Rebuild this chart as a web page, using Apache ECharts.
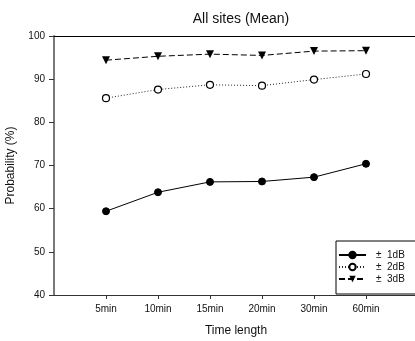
<!DOCTYPE html>
<html>
<head>
<meta charset="utf-8">
<script src="https://cdn.jsdelivr.net/npm/echarts@6/dist/echarts.min.js"></script>
<style>html,body{margin:0;padding:0;background:#fff;}#c{width:415px;height:341px;}</style>
</head>
<body>
<div id="c"></div>
<script>
const categories = ['5min', '10min', '15min', '20min', '30min', '60min'];
const seriesNames = ['±  1dB', '±  2dB', '±  3dB'];
const db1 = [59.4, 63.8, 66.2, 66.3, 67.3, 70.4];
const db2 = [85.6, 87.6, 88.7, 88.5, 89.9, 91.2];
const db3 = [94.4, 95.3, 95.8, 95.5, 96.5, 96.6];
const yTicks = [40, 50, 60, 70, 80, 90, 100];

const toPts = arr => arr.map((v, i) => [i + 1, v]);
const catPos = categories.map((c, i) => i + 1);
const chart = echarts.init(document.getElementById('c'), null, {renderer: 'canvas'});
const font = 'Liberation Sans, Arial, sans-serif';
chart.setOption({
  animation: false,
  title: {
    text: 'All sites (Mean)', left: 236, top: 7, textAlign: 'center',
    textStyle: {fontFamily: font, fontSize: 14, fontWeight: 'normal', color: '#111'}
  },
  grid: {left: 54, top: 36, width: 364, height: 259, containLabel: false, outerBoundsMode: 'none'},
  legend: {
    orient: 'vertical', left: 336, top: 241,
    padding: [9, 30, 10, 2],
    itemWidth: 27, itemHeight: 8, itemGap: 2,
    borderColor: '#000', borderWidth: 1, borderRadius: 0,
    backgroundColor: '#fff',
    textStyle: {fontFamily: font, fontSize: 10, color: '#111', lineHeight: 9, padding: [0, 0, 0, 5]},
    data: seriesNames
  },
  xAxis: [{
    type: 'value', min: 0, max: 7, interval: 1,
    name: 'Time length', nameLocation: 'middle', nameGap: 30,
    nameTextStyle: {fontFamily: font, fontSize: 12, color: '#111'},
    axisLine: {show: true, lineStyle: {color: '#333', width: 1}},
    axisTick: {show: true, length: 4, customValues: catPos, lineStyle: {color: '#333'}},
    axisLabel: {
      margin: 9, fontFamily: font, fontSize: 10, color: '#111',
      customValues: catPos,
      formatter: v => (v >= 1 && v <= categories.length) ? categories[v - 1] : ''
    },
    splitLine: {show: false}
  }, {
    type: 'value', min: 0, max: 7, position: 'top',
    axisLine: {show: true, onZero: false, lineStyle: {color: '#000', width: 1}},
    axisTick: {show: false}, axisLabel: {show: false}, splitLine: {show: false}
  }],
  yAxis: {
    type: 'value', min: yTicks[0], max: yTicks[yTicks.length - 1], interval: 10,
    name: 'Probability (%)', nameLocation: 'middle', nameGap: 37,
    nameTextStyle: {fontFamily: font, fontSize: 12, color: '#111'},
    axisLine: {show: true, lineStyle: {color: '#7a7a7a', width: 2}},
    axisTick: {show: true, length: 5, inside: false, lineStyle: {color: '#333', width: 1}},
    axisLabel: {margin: 9, fontFamily: font, fontSize: 10, color: '#111'},
    splitLine: {show: false}
  },
  series: [{
    name: seriesNames[0], type: 'line', data: toPts(db1),
    symbol: 'circle', symbolSize: 7,
    itemStyle: {color: '#000', borderColor: '#000', borderWidth: 1},
    lineStyle: {color: '#000', width: 1, type: 'solid'}
  }, {
    name: seriesNames[1], type: 'line', data: toPts(db2),
    symbol: 'circle', symbolSize: 7,
    itemStyle: {color: '#fff', borderColor: '#000', borderWidth: 1.2},
    lineStyle: {color: '#222', width: 1, type: [1, 2]}
  }, {
    name: seriesNames[2], type: 'line', data: toPts(db3),
    symbol: 'triangle', symbolRotate: 180, symbolSize: 8,
    itemStyle: {color: '#000', borderColor: '#000', borderWidth: 0},
    lineStyle: {color: '#000', width: 1, type: [6, 3]}
  }]
});
</script>
</body>
</html>
